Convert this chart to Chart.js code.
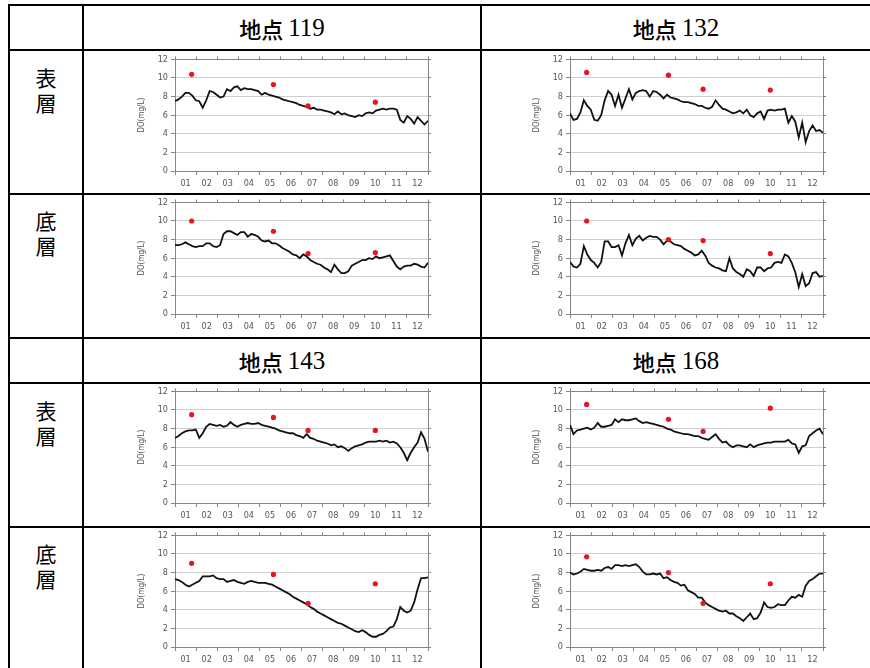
<!DOCTYPE html>
<html>
<head>
<meta charset="utf-8">
<script src="https://cdn.jsdelivr.net/npm/chart.js@4.4.1/dist/chart.umd.min.js"></script>
<style>
  body { margin: 0; background: #fff; width: 870px; height: 668px; overflow: hidden; position: relative; }
  .hl { position: absolute; left: 8px; width: 900px; height: 2px; background: #000; }
  .vl { position: absolute; top: 4px; height: 700px; width: 2px; background: #000; }
  .head { position: absolute; height: 45px; display: flex; align-items: center; justify-content: center; }
  .head .jp { font-family: "Noto Sans CJK JP", sans-serif; font-weight: 500; font-size: 22px; }
  .head .num { font-family: "Liberation Serif", serif; font-size: 25px; margin-left: 5px; }
  .side { position: absolute; left: 10px; width: 72px; text-align: center;
          font-family: "Noto Sans CJK JP", sans-serif; font-size: 21px; line-height: 25px; }
  canvas { position: absolute; }
</style>
</head>
<body>
<div class="hl" style="top:4px"></div>
<div class="hl" style="top:49px"></div>
<div class="hl" style="top:193px"></div>
<div class="hl" style="top:337px"></div>
<div class="hl" style="top:382px"></div>
<div class="hl" style="top:526px"></div>
<div class="vl" style="left:8px"></div>
<div class="vl" style="left:82px"></div>
<div class="vl" style="left:480px"></div>

<div class="head" style="left:84px;width:396px;top:5px"><span class="jp">地点</span><span class="num">119</span></div>
<div class="head" style="left:482px;width:388px;top:5px"><span class="jp">地点</span><span class="num">132</span></div>
<div class="head" style="left:84px;width:396px;top:338px"><span class="jp">地点</span><span class="num">143</span></div>
<div class="head" style="left:482px;width:388px;top:338px"><span class="jp">地点</span><span class="num">168</span></div>

<div class="side" style="top:65px">表<br>層</div>
<div class="side" style="top:208px">底<br>層</div>
<div class="side" style="top:398px">表<br>層</div>
<div class="side" style="top:541px">底<br>層</div>

<canvas id="c119s" width="310" height="142" style="left:130px;top:51px"></canvas>
<canvas id="c132s" width="310" height="142" style="left:525px;top:51px"></canvas>
<canvas id="c119b" width="310" height="142" style="left:130px;top:194px"></canvas>
<canvas id="c132b" width="310" height="142" style="left:525px;top:194px"></canvas>
<canvas id="c143s" width="310" height="142" style="left:130px;top:383px"></canvas>
<canvas id="c168s" width="310" height="142" style="left:525px;top:383px"></canvas>
<canvas id="c143b" width="310" height="142" style="left:130px;top:527px"></canvas>
<canvas id="c168b" width="310" height="142" style="left:525px;top:527px"></canvas>

<script>
// --- Data ---
// continuous DO (mg/L), one reading every STEP days from 1 Jan
const STEP = 5;
const months = ['01', '02', '03', '04', '05', '06', '07', '08', '09', '10', '11', '12'];
// day of year of the four spot surveys (red dots)
const surveyDays = [24, 142, 192, 289];

const do119Surface = [7.5,7.7,8.0,8.4,8.4,8.1,7.6,7.5,6.8,7.6, 8.6,8.5,8.2,7.9,8.0,8.8,8.6,9.0,9.1,8.7,
  8.9,8.8,8.8,8.7,8.6,8.2,8.4,8.2,8.1,8.0, 7.9,7.7,7.6,7.5,7.4,7.3,7.1,7.0,6.9,6.7,
  6.8,6.6,6.6,6.5,6.4,6.3,6.1,6.4,6.1,6.2, 6.0,5.9,5.8,6.0,5.9,6.2,6.3,6.2,6.5,6.6,
  6.7,6.6,6.7,6.7,6.6,5.5,5.2,5.9,5.6,5.1, 5.8,5.4,5.0,5.4];
const do132Surface = [6.2,5.5,5.6,6.3,7.6,7.0,6.6,5.5,5.4,6.0, 7.6,8.6,8.2,7.0,8.2,6.8,7.8,8.8,7.7,8.4,
  8.6,8.7,8.6,8.0,8.6,8.5,8.2,7.8,8.2,7.9, 7.8,7.7,7.5,7.4,7.4,7.3,7.2,7.0,7.0,6.8,
  6.7,6.9,7.6,7.1,6.7,6.6,6.4,6.2,6.3,6.5, 6.2,6.6,6.0,5.8,6.2,6.4,5.6,6.5,6.6,6.5,
  6.6,6.6,6.7,5.2,5.9,5.3,3.6,5.2,3.1,4.3, 4.9,4.3,4.4,4.1];
const do119Bottom = [7.4,7.4,7.5,7.7,7.5,7.3,7.2,7.3,7.3,7.6, 7.6,7.3,7.2,7.4,8.6,8.9,8.9,8.7,8.5,8.8,
  8.8,8.3,8.6,8.5,8.3,7.9,7.8,7.9,7.6,7.6, 7.4,7.1,6.9,6.7,6.4,6.3,6.0,6.4,6.2,5.8,
  5.6,5.4,5.3,5.0,4.8,4.5,5.3,4.8,4.4,4.4, 4.6,5.2,5.4,5.6,5.8,5.8,6.0,5.9,6.2,6.0,
  6.1,6.2,6.3,5.7,5.1,4.8,5.1,5.2,5.2,5.4, 5.3,5.1,5.0,5.5];
const do132Bottom = [5.6,5.1,5.0,5.4,7.3,6.4,5.8,5.5,5.0,5.6, 7.8,7.8,7.2,7.2,7.4,6.3,7.6,8.5,7.4,8.1,
  8.4,7.9,8.2,8.4,8.3,8.3,8.0,7.5,7.9,7.8, 7.5,7.4,7.3,7.0,6.8,6.6,6.3,6.4,6.8,6.3,
  5.5,5.2,5.0,4.9,4.7,4.6,6.0,4.9,4.5,4.3, 4.0,4.8,4.6,4.1,5.0,5.0,4.6,4.9,5.0,5.5,
  5.6,5.5,6.4,6.2,5.5,4.5,2.9,4.3,3.0,3.3, 4.4,4.5,4.0,4.1];
const do143Surface = [7.0,7.2,7.5,7.7,7.8,7.8,7.9,7.0,7.5,8.2, 8.5,8.4,8.3,8.4,8.2,8.3,8.7,8.4,8.2,8.4,
  8.5,8.6,8.5,8.5,8.6,8.4,8.3,8.2,8.1,8.0, 7.8,7.7,7.6,7.5,7.5,7.3,7.2,7.0,7.4,7.0,
  6.9,6.7,6.6,6.5,6.4,6.2,6.3,6.0,6.1,5.9, 5.6,5.9,6.1,6.2,6.3,6.5,6.6,6.6,6.6,6.7,
  6.6,6.7,6.5,6.6,6.4,6.0,5.4,4.6,5.4,6.0, 6.5,7.6,6.9,5.5];
const do168Surface = [8.4,7.4,7.8,7.9,8.0,8.1,7.9,8.1,8.6,8.2, 8.2,8.3,8.4,9.0,8.7,9.0,8.9,8.9,9.0,9.1,
  8.8,8.6,8.7,8.6,8.5,8.4,8.3,8.2,8.0,7.9, 7.7,7.6,7.5,7.4,7.4,7.3,7.2,7.2,7.0,6.9,
  6.8,7.1,7.4,6.9,6.5,6.6,6.2,6.0,6.2,6.2, 6.1,6.0,6.3,6.0,6.2,6.3,6.4,6.5,6.5,6.6,
  6.6,6.6,6.6,6.8,6.4,6.3,5.4,6.1,6.2,7.2, 7.5,7.8,8.0,7.4];
const do143Bottom = [7.3,7.2,7.0,6.7,6.5,6.7,6.9,7.1,7.6,7.6, 7.6,7.7,7.4,7.3,7.3,7.0,7.1,7.2,7.0,6.9,
  6.8,7.0,7.1,7.0,6.9,6.9,6.9,6.8,6.7,6.5, 6.3,6.1,5.9,5.7,5.4,5.2,5.0,4.8,4.6,4.3,
  4.1,3.8,3.6,3.4,3.2,3.0,2.8,2.6,2.5,2.3, 2.1,1.9,1.7,1.6,1.8,1.6,1.3,1.1,1.1,1.3,
  1.4,1.7,2.1,2.2,3.0,4.3,3.9,3.7,3.9,4.8, 6.2,7.4,7.4,7.5];
const do168Bottom = [8.0,7.8,7.9,8.1,8.4,8.3,8.2,8.2,8.3,8.2, 8.5,8.6,8.4,8.8,8.8,8.7,8.8,8.7,8.8,8.9,
  8.6,8.1,7.8,7.8,7.9,7.8,7.9,7.4,7.5,7.2, 7.0,6.9,6.6,6.7,6.1,5.9,5.7,5.3,5.3,4.8,
  4.5,4.3,4.1,3.9,3.8,3.9,3.6,3.6,3.3,3.1, 2.8,3.2,3.6,3.0,3.1,3.7,4.8,4.3,4.2,4.3,
  4.6,4.5,4.5,5.0,5.4,5.3,5.6,5.4,6.6,7.1, 7.3,7.6,7.9,7.9];

// spot survey DO (mg/L)
const spot119Surface = [10.4, 9.3, 7.0, 7.4];
const spot132Surface = [10.6, 10.3, 8.8, 8.7];
const spot119Bottom = [10.0, 8.9, 6.5, 6.6];
const spot132Bottom = [10.0, 8.0, 7.9, 6.5];
const spot143Surface = [9.5, 9.2, 7.8, 7.8];
const spot168Surface = [10.6, 9.0, 7.7, 10.2];
const spot143Bottom = [9.0, 7.8, 4.7, 6.8];
const spot168Bottom = [9.7, 8.0, 4.7, 6.8];

// --- Chart setup ---
const AXIS = '#858585';
const GRID = '#cfcfcf';
const TICK_FONT = { family: '"Liberation Sans Narrow", "DejaVu Sans Condensed", sans-serif', size: 9 };

const makeChart = (id, series, spots) => {
  const line = series.map((v, i) => ({ x: i * STEP, y: v }));
  const dots = spots.map((v, i) => ({ x: surveyDays[i], y: v }));
  return new Chart(document.getElementById(id), {
    data: {
      datasets: [
        { type: 'scatter', data: dots, xAxisID: 'xd', yAxisID: 'y',
          pointRadius: 2.6, pointBackgroundColor: '#e8141e', pointBorderWidth: 0 },
        { type: 'line', data: line, xAxisID: 'xd', yAxisID: 'y',
          borderColor: '#111', borderWidth: 1.8, pointRadius: 0, tension: 0 }
      ]
    },
    options: {
      responsive: false,
      animation: false,
      events: [],
      layout: { padding: 0 },
      plugins: { legend: { display: false }, tooltip: { enabled: false } },
      scales: {
        xd: { type: 'linear', min: 0, max: 365, display: false },
        x: {
          type: 'category', labels: months, position: 'bottom', offset: true,
          grid: { offset: true, drawOnChartArea: false, tickLength: 4, color: AXIS },
          border: { color: AXIS },
          ticks: { color: '#555', font: TICK_FONT, padding: 3, maxRotation: 0, autoSkip: false },
          afterFit: s => { s.height = 22; }
        },
        xt: {
          type: 'category', labels: months, position: 'top', offset: true,
          grid: { offset: true, drawOnChartArea: false, tickLength: 3, color: AXIS },
          border: { color: AXIS },
          ticks: { display: false },
          afterFit: s => { s.height = 4; }
        },
        y: {
          position: 'left', min: 0, max: 12,
          ticks: { stepSize: 2, color: '#555', font: TICK_FONT, padding: 3 },
          grid: { color: GRID, tickColor: AXIS, tickLength: 4 },
          border: { color: AXIS },
          title: { display: true, text: 'DO(mg/L)', color: '#555', font: { family: TICK_FONT.family, size: 8 }, padding: { top: 7, bottom: 0 } },
          afterFit: s => { s.width = 45; }
        },
        yr: {
          position: 'right', min: 0, max: 12,
          ticks: { display: false, stepSize: 2 },
          grid: { drawOnChartArea: false, tickLength: 3, color: AXIS },
          border: { color: AXIS },
          afterFit: s => { s.width = 12; }
        }
      }
    }
  });
};

makeChart('c119s', do119Surface, spot119Surface);
makeChart('c132s', do132Surface, spot132Surface);
makeChart('c119b', do119Bottom, spot119Bottom);
makeChart('c132b', do132Bottom, spot132Bottom);
makeChart('c143s', do143Surface, spot143Surface);
makeChart('c168s', do168Surface, spot168Surface);
makeChart('c143b', do143Bottom, spot143Bottom);
makeChart('c168b', do168Bottom, spot168Bottom);
</script>
</body>
</html>
